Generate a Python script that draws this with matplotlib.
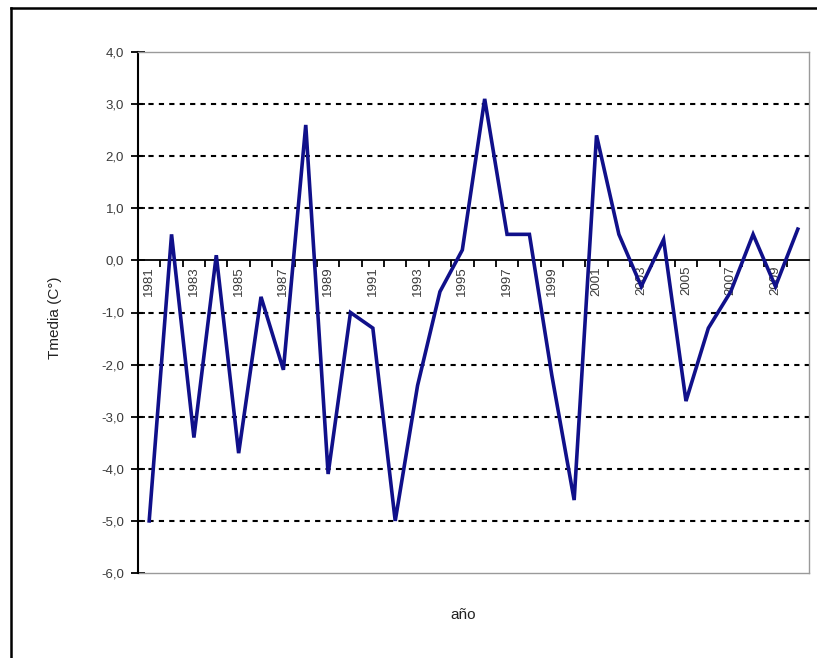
import matplotlib
matplotlib.use("Agg")
from matplotlib import pyplot as plt
from matplotlib.lines import Line2D

plt.rcParams['font.family'] = ['Liberation Sans', 'DejaVu Sans']

# data
years = list(range(1981, 2011))
tmedia = [-5.0, 0.5, -3.4, 0.1, -3.7, -0.7, -2.1, 2.6, -4.1, -1.0,
          -1.3, -5.0, -2.4, -0.6, 0.2, 3.1, 0.5, 0.5, -2.2, -4.6,
          2.4, 0.5, -0.5, 0.4, -2.7, -1.3, -0.6, 0.5, -0.5, 0.6]
yticks = [4, 3, 2, 1, 0, -1, -2, -3, -4, -5, -6]
grid_levels = [3, 2, 1, -1, -2, -3, -4, -5]

W, H = 817, 658
fig = plt.figure(figsize=(W / 100, H / 100), dpi=100)
ax = fig.add_axes([138 / W, 1 - 573 / H, (809 - 138) / W, (573 - 52) / H])

idx = list(range(len(years)))

for g in grid_levels:
    ax.axhline(g, color='black', lw=1.5, linestyle=(0, (2.5, 2.5)), zorder=1)

ax.plot(idx, tmedia, color='#10108a', lw=2.6, zorder=3, solid_joinstyle='miter')

ax.set_xlim(-0.5, len(years) - 0.5)
ax.set_ylim(-6, 4)

# spines: x axis crosses at 0
ax.spines['bottom'].set_position(('data', 0))
ax.spines['bottom'].set_color('black')
ax.spines['bottom'].set_linewidth(1.3)
ax.spines['left'].set_linewidth(1.5)
for s in ['top', 'right']:
    ax.spines[s].set_color('#9a9a9a')
    ax.spines[s].set_linewidth(1.0)
ax.plot([-0.5, len(years) - 0.5], [-6, -6], color='#9a9a9a', lw=1.0,
        clip_on=False, zorder=2)

ax.set_yticks(yticks)
ax.set_yticklabels([f"{v:.1f}".replace('.', ',') for v in yticks])
ax.tick_params(axis='y', direction='inout', length=10, width=1.3,
               labelsize=9.5, labelcolor='#3a3a3a', pad=5)

ax.set_xticks(idx[::2])
ax.set_xticklabels([str(y) for y in years[::2]], rotation=90)
ax.set_xticks([i - 0.5 for i in idx[1:]], minor=True)
ax.tick_params(axis='x', which='major', length=0, labelsize=9.5,
               labelcolor='#3a3a3a', pad=4)
ax.tick_params(axis='x', which='minor', direction='out', length=5, width=1.3)

fig.text(55 / W, 1 - 318 / H, 'Tmedia (C°)', rotation=90, ha='center',
         va='center', fontsize=11, color='#222222')
fig.text(463 / W, 1 - 615 / H, 'año', ha='center', va='center',
         fontsize=11, color='#222222')

# outer chart frame
fig.add_artist(Line2D([11 / W, 11 / W], [0, 1 - 8 / H], color='black',
                      lw=1.8, transform=fig.transFigure))
fig.add_artist(Line2D([11 / W, 1], [1 - 8 / H, 1 - 8 / H], color='black',
                      lw=1.8, transform=fig.transFigure))

fig.savefig('out.png', dpi=100)
